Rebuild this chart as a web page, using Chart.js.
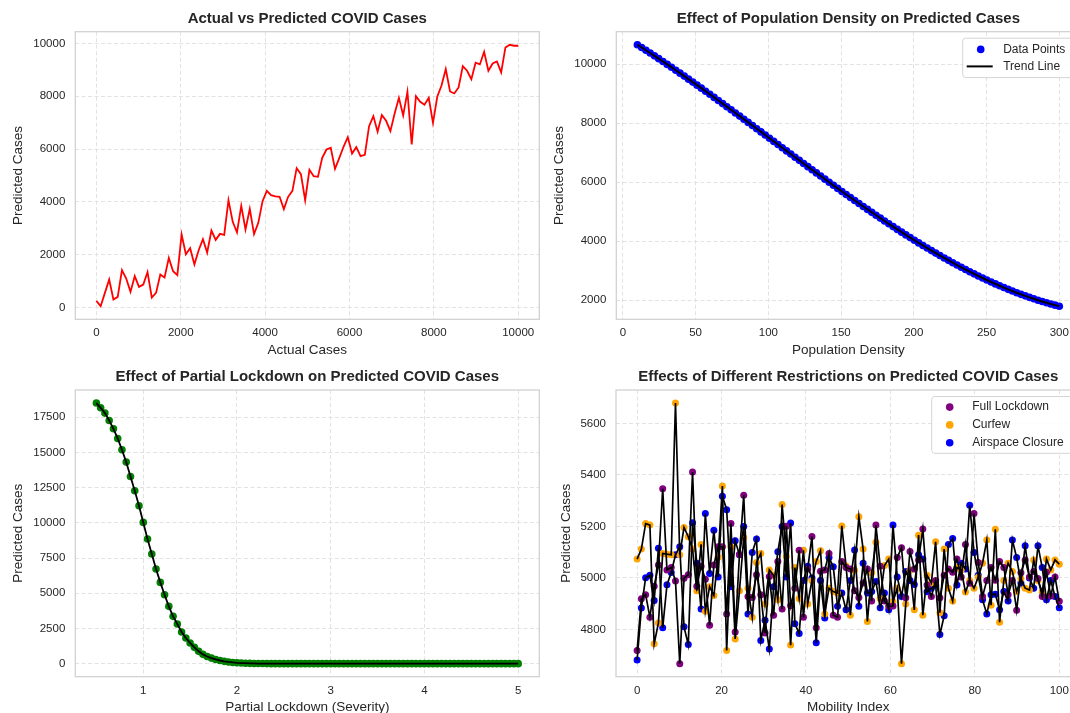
<!DOCTYPE html>
<html>
<head>
<meta charset="utf-8">
<script src="https://cdn.jsdelivr.net/npm/chart.js@4.4.1/dist/chart.umd.min.js"></script>
<style>
  html, body { margin: 0; padding: 0; background: #fff; overflow: hidden; width: 1070px; height: 713px; }
  canvas { position: absolute; }
</style>
</head>
<body>
<canvas id="c1" width="550" height="360" style="left:0px;top:0px"></canvas>
<canvas id="c2" width="560" height="360" style="left:545px;top:0px"></canvas>
<canvas id="c3" width="550" height="357" style="left:0px;top:360px"></canvas>
<canvas id="c4" width="560" height="357" style="left:545px;top:360px"></canvas>
<script>
// ---- data ----
const actualCases = [252, 50, 556, 1060, 303, 404, 1414, 1098, 593, 1187,
  783, 871, 1338, 379, 556, 1250, 1136, 1881, 1376, 1225,
  2765, 2020, 2247, 1629, 2172, 2588, 2083, 2917, 2563, 2790,
  2753, 4066, 3245, 2841, 3851, 2955, 3737, 2778, 3207, 4028,
  4419, 4255, 4205, 4192, 3725, 4192, 4419, 5278, 5051, 4066,
  5215, 4975, 4949, 5669, 5985, 6048, 5253, 5657, 6086, 6452,
  5833, 6073, 5732, 5783, 6869, 7247, 6654, 7285, 7071, 6679,
  7348, 7942, 7273, 8169, 6174, 8005, 7790, 7677, 7942, 6995,
  7980, 8409, 9028, 8182, 8106, 8333, 9141, 8965, 8649, 9268,
  9205, 9684, 8965, 9242, 9318, 8902, 9848, 9949, 9912, 9912];

const densityCases = [10654, 10562, 10469, 10374, 10279, 10184, 10087, 9989, 9891, 9792,
  9692, 9592, 9490, 9389, 9286, 9184, 9080, 8976, 8872, 8767,
  8662, 8557, 8451, 8345, 8238, 8132, 8025, 7918, 7810, 7703,
  7596, 7488, 7381, 7274, 7166, 7059, 6952, 6845, 6738, 6631,
  6525, 6418, 6313, 6207, 6102, 5997, 5893, 5789, 5685, 5583,
  5480, 5378, 5277, 5177, 5077, 4978, 4879, 4782, 4685, 4589,
  4494, 4400, 4307, 4214, 4123, 4032, 3943, 3855, 3768, 3682,
  3597, 3514, 3432, 3351, 3271, 3193, 3116, 3040, 2966, 2894,
  2822, 2753, 2685, 2618, 2553, 2490, 2429, 2369, 2311, 2255,
  2200, 2148, 2097, 2048, 2001, 1956, 1913, 1873, 1834, 1797];

const lockdownCases = [18500, 18162, 17784, 17264, 16672, 15986, 15182, 14307, 13290, 12274,
  11209, 10027, 8845, 7780, 6716, 5770, 4895, 4068, 3358, 2814,
  2247, 1821, 1466, 1159, 875, 660, 510, 395, 300, 225,
  165, 120, 88, 63, 45, 32, 22, 15, 10, 7,
  5, 3, 2, 1, 1, 0, 0, 0, 0, 0,
  0, 0, 0, 0, 0, 0, 0, 0, 0, 0,
  0, 0, 0, 0, 0, 0, 0, 0, 0, 0,
  0, 0, 0, 0, 0, 0, 0, 0, 0, 0,
  0, 0, 0, 0, 0, 0, 0, 0, 0, 0,
  0, 0, 0, 0, 0, 0, 0, 0, 0, 0];

const fullLockdown = [4718, 4919, 4935, 4847, 4968, 5050, 5346, 5031, 5040, 4988,
  4667, 4999, 5012, 5411, 4968, 5045, 4995, 4816, 5050, 5121,
  5121, 4860, 5211, 4790, 5091, 5321, 4928, 4924, 5012, 4935,
  4786, 5005, 4855, 5064, 4879, 5201, 4892, 4960, 5107, 4847,
  5035, 5161, 4806, 5026, 5031, 5095, 4855, 4847, 5064, 5040,
  5035, 4950, 4924, 4980, 5035, 4910, 5205, 5045, 4910, 4890,
  4891, 5079, 5117, 4923, 5103, 5035, 5070, 5190, 4972, 4928,
  4990, 4923, 5010, 5035, 5022, 5073, 5004, 5130, 4979, 5250,
  5060, 4928, 4990, 5040, 4991, 5064, 5040, 4935, 4990, 4874,
  5020, 5070, 5004, 5025, 4998, 4928, 5022, 4930, 5004, 4909];

const curfew = [5073, 5112, 5211, 5205, 4744, 4825, 5095, 5092, 5090, 5679,
  5090, 5196, 5160, 5112, 4950, 5130, 4871, 4966, 4932, 5080,
  5357, 4718, 5120, 4763, 4950, 5157, 4960, 4847, 5060, 5095,
  4899, 5031, 5010, 4915, 5285, 5083, 4739, 5040, 4920, 5107,
  4899, 4990, 5064, 5105, 4860, 4960, 4947, 4941, 5202, 5046,
  4855, 5030, 5237, 5112, 4831, 5020, 5138, 4920, 5048, 5073,
  4907, 4960, 4667, 4899, 5030, 4876, 5166, 4855, 5010, 4980,
  5140, 4865, 5112, 4960, 4910, 5040, 5031, 4945, 4990, 4960,
  5004, 5057, 5147, 4894, 5189, 4828, 4990, 5057, 5025, 4947,
  4997, 4960, 4953, 5070, 4990, 4945, 5073, 5031, 5070, 5053];

const airspaceClosure = [4681, 4883, 5001, 5010, 4912, 5115, 4806, 4973, 5021, 5090,
  5121, 4810, 4741, 5214, 5057, 4879, 5250, 5017, 5185, 5004,
  5317, 5265, 4966, 5144, 5090, 5200, 4860, 5099, 5151, 4757,
  4836, 4724, 4966, 5102, 5200, 5004, 5213, 4822, 4784, 4990,
  5045, 5000, 4748, 4990, 4844, 5079, 5043, 4890, 4941, 4876,
  4990, 5108, 4890, 5057, 4941, 4947, 4986, 4884, 4941, 4876,
  5205, 5004, 4928, 5025, 4990, 4974, 5090, 5073, 4946, 4960,
  4972, 4780, 4853, 5130, 5153, 4972, 5057, 5035, 5282, 5099,
  5010, 4915, 4860, 4935, 4937, 4876, 4947, 4910, 5147, 5079,
  4980, 5125, 5000, 4960, 5125, 5040, 4915, 4990, 4928, 4884];

// tick labels
const ticks1x = [0, 2000, 4000, 6000, 8000, 10000];
const ticks1y = [0, 2000, 4000, 6000, 8000, 10000];
const ticks2x = [0, 50, 100, 150, 200, 250, 300];
const ticks2y = [2000, 4000, 6000, 8000, 10000];
const ticks3x = [1, 2, 3, 4, 5];
const ticks3y = [0, 2500, 5000, 7500, 10000, 12500, 15000, 17500];
const ticks4x = [0, 20, 40, 60, 80, 100];
const ticks4y = [4800, 5000, 5200, 5400, 5600];

// x ranges of the evenly spaced samples
function linspace(a, b, n) {
  const out = [];
  for (let i = 0; i < n; i++) out.push(a + (b - a) * i / (n - 1));
  return out;
}
const actualX = linspace(0, 10000, actualCases.length);
const densityX = linspace(10, 300, densityCases.length);
const severityX = linspace(0.5, 5, lockdownCases.length);
const mobilityX = linspace(0, 100, fullLockdown.length);

const FONT = "'Liberation Sans', Arial, Helvetica, sans-serif";
const TXT = '#262626';
Chart.defaults.font.family = FONT;

function xy(xs, ys) { return ys.map((y, i) => ({ x: xs[i], y: y })); }

// matplotlib-like 5% margins
function span(arrays) {
  const all = [].concat(...arrays);
  const mn = Math.min(...all), mx = Math.max(...all), m = (mx - mn) * 0.05;
  return [mn - m, mx + m];
}

// light grey box around the plot area
const frame = {
  id: 'frame',
  beforeDatasetsDraw(chart) {
    const { ctx, chartArea: a } = chart;
    ctx.save();
    ctx.strokeStyle = '#d0d0d0';
    ctx.lineWidth = 1.25;
    ctx.strokeRect(a.left, a.top, a.right - a.left, a.bottom - a.top);
    ctx.restore();
  }
};

// legend box in the upper right corner of the plot
const boxLegend = {
  id: 'boxLegend',
  afterDraw(chart, args, opts) {
    const items = chart.data.datasets.filter(d => d.legendKind);
    if (!items.length) return;
    const { ctx, chartArea: a } = chart;
    const h = items.length * opts.rowH + 2 * opts.padY;
    const x0 = a.right - 7 - opts.width, y0 = a.top + 6.5;
    ctx.save();
    ctx.beginPath();
    ctx.roundRect(x0, y0, opts.width, h, 3);
    ctx.fillStyle = 'rgba(255,255,255,0.85)';
    ctx.fill();
    ctx.strokeStyle = '#d4d4d4';
    ctx.lineWidth = 1;
    ctx.stroke();
    ctx.font = '12px ' + FONT;
    ctx.textBaseline = 'middle';
    items.forEach((d, i) => {
      const cy = y0 + opts.padY + opts.rowH * (i + 0.5);
      if (d.legendKind === 'line') {
        ctx.strokeStyle = d.borderColor;
        ctx.lineWidth = 2;
        ctx.beginPath();
        ctx.moveTo(x0 + 4, cy);
        ctx.lineTo(x0 + 30, cy);
        ctx.stroke();
      } else {
        ctx.fillStyle = d.pointBackgroundColor;
        ctx.beginPath();
        ctx.arc(x0 + 18, cy, 3.8, 0, Math.PI * 2);
        ctx.fill();
      }
      ctx.fillStyle = TXT;
      ctx.fillText(d.label, x0 + 40.5, cy);
    });
    ctx.restore();
  }
};

function axis(range, tickVals, label, size, titlePad, isX) {
  return {
    type: 'linear',
    min: range[0],
    max: range[1],
    afterBuildTicks: s => { s.ticks = tickVals.map(v => ({ value: v })); },
    afterFit: s => { if (isX) s.height = size; else s.width = size; },
    ticks: {
      color: TXT, font: { size: 11.5 }, padding: isX ? 7 : 10,
      autoSkip: false, maxRotation: 0, callback: v => String(v)
    },
    grid: { color: '#e2e2e2', lineWidth: 1, drawTicks: false },
    border: { display: false, dash: [4, 2.5] },
    title: {
      display: true, text: label, color: TXT, font: { size: 13.5 },
      padding: isX ? { top: 0, bottom: titlePad } : { top: titlePad, bottom: 0 }
    }
  };
}

function makeChart(id, g, datasets, t) {
  return new Chart(document.getElementById(id), {
    type: 'scatter',
    data: { datasets: datasets },
    plugins: [frame, boxLegend],
    options: {
      responsive: false,
      animation: false,
      events: [],
      layout: { padding: { left: 0, right: g.padRight, top: 0, bottom: 0 } },
      scales: {
        x: axis(t.xRange, t.xTicks, t.xLabel, g.xH, g.xTitlePad, true),
        y: axis(t.yRange, t.yTicks, t.yLabel, g.yW, g.yTitlePad, false)
      },
      plugins: {
        legend: { display: false },
        tooltip: { enabled: false },
        title: {
          display: true, text: t.title, fullSize: false, color: TXT,
          font: { size: 15, weight: 'bold' },
          padding: { top: g.tTop, bottom: g.tBot }
        },
        boxLegend: t.legend || {}
      }
    }
  });
}

// ---- 1: actual vs predicted ----
makeChart('c1',
  { yW: 75.3, xH: 40.7, padRight: 10.7, tTop: 9.5, tBot: 4.2, xTitlePad: 1.9, yTitlePad: 9.9 },
  [{
    data: xy(actualX, actualCases), showLine: true, borderColor: '#ff0000',
    borderWidth: 1.8, pointRadius: 0
  }],
  {
    title: 'Actual vs Predicted COVID Cases', xLabel: 'Actual Cases', yLabel: 'Predicted Cases',
    xRange: span([actualX]), yRange: span([actualCases]), xTicks: ticks1x, yTicks: ticks1y
  });

// ---- 2: population density ----
makeChart('c2',
  { yW: 71.3, xH: 40.7, padRight: 24.6, tTop: 9.5, tBot: 4.2, xTitlePad: 1.9, yTitlePad: 5.9 },
  [{
    label: 'Data Points', legendKind: 'dot', order: 1,
    data: xy(densityX, densityCases), pointBackgroundColor: '#0000ff',
    pointBorderWidth: 0, pointRadius: 3.8
  }, {
    label: 'Trend Line', legendKind: 'line', order: 0,
    data: xy(densityX, densityCases), showLine: true, borderColor: '#000000',
    borderWidth: 2, pointRadius: 0
  }],
  {
    title: 'Effect of Population Density on Predicted Cases', xLabel: 'Population Density',
    yLabel: 'Predicted Cases', xRange: span([densityX]), yRange: span([densityCases]),
    xTicks: ticks2x, yTicks: ticks2y, legend: { width: 110.7, rowH: 17, padY: 2.7 }
  });

// ---- 3: partial lockdown ----
makeChart('c3',
  { yW: 75.3, xH: 40.3, padRight: 10.7, tTop: 8, tBot: 4, xTitlePad: 1.9, yTitlePad: 9.9 },
  [{
    data: xy(severityX, lockdownCases), showLine: true, borderColor: '#000000',
    borderWidth: 1.8, pointRadius: 0, order: 0
  }, {
    data: xy(severityX, lockdownCases), pointBackgroundColor: '#008000',
    pointBorderWidth: 0, pointRadius: 3.8, order: 1
  }],
  {
    title: 'Effect of Partial Lockdown on Predicted COVID Cases', xLabel: 'Partial Lockdown (Severity)',
    yLabel: 'Predicted Cases', xRange: span([severityX]), yRange: span([lockdownCases]),
    xTicks: ticks3x, yTicks: ticks3y
  });

// ---- 4: restrictions ----
const restr = [
  ['Full Lockdown', fullLockdown, '#800080'],
  ['Curfew', curfew, '#ffa500'],
  ['Airspace Closure', airspaceClosure, '#0000ff']
];
const ds4 = [];
restr.forEach(r => {
  ds4.push({
    label: r[0], legendKind: 'dot', order: 1, data: xy(mobilityX, r[1]),
    pointBackgroundColor: r[2], pointBorderWidth: 0, pointRadius: 3.5
  });
});
restr.forEach(r => {
  ds4.push({
    data: xy(mobilityX, r[1]), showLine: true, borderColor: '#000000',
    borderWidth: 1.7, pointRadius: 0, order: 0
  });
});
makeChart('c4',
  { yW: 71, xH: 40.3, padRight: 24.6, tTop: 8, tBot: 4, xTitlePad: 1.9, yTitlePad: 12.9 },
  ds4,
  {
    title: 'Effects of Different Restrictions on Predicted COVID Cases', xLabel: 'Mobility Index',
    yLabel: 'Predicted Cases', xRange: span([mobilityX]),
    yRange: span([fullLockdown, curfew, airspaceClosure]),
    xTicks: ticks4x, yTicks: ticks4y, legend: { width: 141.7, rowH: 17.8, padY: 1.7 }
  });
</script>
</body>
</html>
